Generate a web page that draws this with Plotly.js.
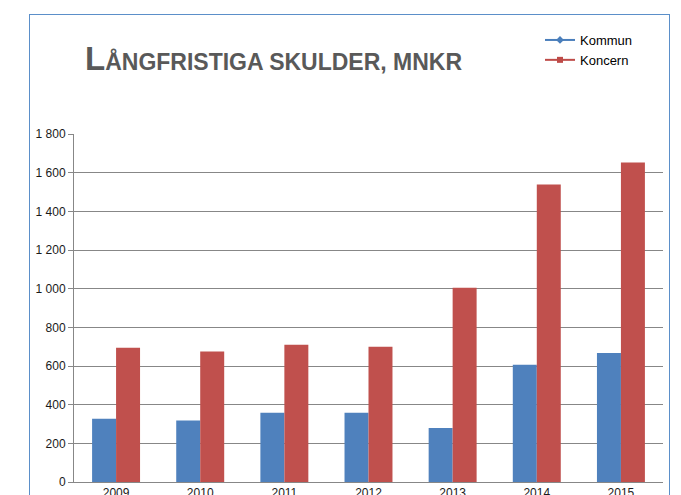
<!DOCTYPE html>
<html>
<head>
<meta charset="utf-8">
<script src="https://cdn.plot.ly/plotly-3.0.1.min.js"></script>
<style>
  body { margin: 0; background: #fff; }
  #chart { width: 681px; height: 495px; }
  #frame {
    position: absolute; left: 29px; top: 14px; width: 639px; height: 500px;
    border: 1px solid #5b8fc9; pointer-events: none;
  }
</style>
</head>
<body>
<div id="chart"></div>
<div id="frame"></div>
<script>
const years = ["2009", "2010", "2011", "2012", "2013", "2014", "2015"];
const kommun = [327, 318, 358, 358, 279, 607, 667];
const koncern = [695, 675, 710, 700, 1005, 1539, 1652];

const font = "Liberation Sans, Arial, sans-serif";

const data = [
  { x: years, y: kommun, type: "bar", name: "Kommun", marker: { color: "#4f81bd" }, showlegend: false },
  { x: years, y: koncern, type: "bar", name: "Koncern", marker: { color: "#c0504d" }, showlegend: false },
  // legend entries drawn as line + marker like the original
  { x: [null], y: [null], type: "scatter", mode: "lines+markers", name: "Kommun",
    line: { color: "#4a7ebb", width: 2 }, marker: { symbol: "diamond", size: 6, color: "#4a7ebb" } },
  { x: [null], y: [null], type: "scatter", mode: "lines+markers", name: "Koncern",
    line: { color: "#be4b48", width: 2 }, marker: { symbol: "square", size: 6, color: "#be4b48" } }
];

const layout = {
  width: 681,
  height: 495,
  margin: { l: 74, r: 18, t: 134, b: 13, autoexpand: false },
  paper_bgcolor: "#fff",
  plot_bgcolor: "#fff",
  font: { family: font, size: 12, color: "#1a1a1a" },
  separators: ", ",
  title: {
    text: "<span style='font-size:33px'>L</span>ÅNGFRISTIGA SKULDER, MNKR",
    font: { family: font, size: 23, color: "#595959", weight: "bold" },
    xref: "container", yref: "container",
    x: 85 / 681, xanchor: "left",
    y: 1 - 62 / 495, yanchor: "middle"
  },
  barmode: "group",
  bargap: 0.43,
  bargroupgap: 0,
  showlegend: true,
  legend: {
    xref: "container", yref: "container",
    x: 540 / 681, xanchor: "left",
    y: 1 - 25 / 495, yanchor: "top",
    font: { family: font, size: 13, color: "#000" },
    bgcolor: "rgba(0,0,0,0)",
    tracegroupgap: 0
  },
  xaxis: {
    type: "category",
    showline: true, linecolor: "#878787", linewidth: 1,
    ticks: "", showgrid: false,
    tickfont: { size: 12, color: "#1a1a1a" }
  },
  yaxis: {
    range: [0, 1800],
    dtick: 200,
    tickformat: ",d",
    showline: true, linecolor: "#878787", linewidth: 1,
    ticks: "outside", ticklen: 5, tickcolor: "#878787",
    gridcolor: "#878787", gridwidth: 1,
    zeroline: false,
    tickfont: { size: 12, color: "#1a1a1a" }
  }
};

Plotly.newPlot("chart", data, layout, { displayModeBar: false, staticPlot: true });
</script>
</body>
</html>
